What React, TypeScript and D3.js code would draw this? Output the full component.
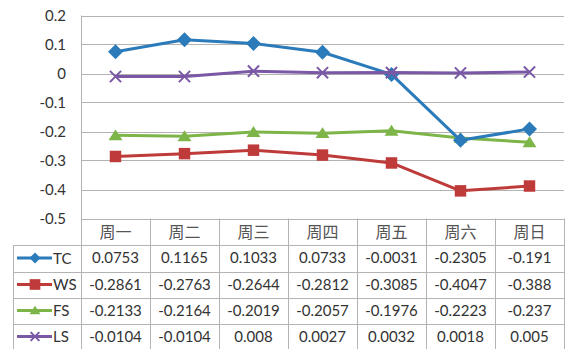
import React from "react";
import * as d3 from "d3";

const days = ["周一", "周二", "周三", "周四", "周五", "周六", "周日"];
const seriesNames = ["TC", "WS", "FS", "LS"];
const tcValues = [0.0753, 0.1165, 0.1033, 0.0733, -0.0031, -0.2305, -0.191];
const wsValues = [-0.2861, -0.2763, -0.2644, -0.2812, -0.3085, -0.4047, -0.388];
const fsValues = [-0.2133, -0.2164, -0.2019, -0.2057, -0.1976, -0.2223, -0.237];
const lsValues = [-0.0104, -0.0104, 0.008, 0.0027, 0.0032, 0.0018, 0.005];
const tableLabels = [
  ["0.0753", "0.1165", "0.1033", "0.0733", "-0.0031", "-0.2305", "-0.191"],
  ["-0.2861", "-0.2763", "-0.2644", "-0.2812", "-0.3085", "-0.4047", "-0.388"],
  ["-0.2133", "-0.2164", "-0.2019", "-0.2057", "-0.1976", "-0.2223", "-0.237"],
  ["-0.0104", "-0.0104", "0.008", "0.0027", "0.0032", "0.0018", "0.005"],
];
const yTicks = [0.2, 0.1, 0, -0.1, -0.2, -0.3, -0.4, -0.5];
const yTickLabels = ["0.2", "0.1", "0", "-0.1", "-0.2", "-0.3", "-0.4", "-0.5"];

const colors = ["#2B7BBA", "#BE3B3A", "#7DB548", "#7A58A6"];
const markers = ["diamond", "square", "triangle", "x"];

const W = 565, H = 349;
const left = 81, right = 564;
const top = 15.5, bottom = 218.5;
const rowTops = [245, 271.5, 297.5, 323.5];
const rowH = 26;
const font = "Lato, 'Open Sans', sans-serif";
const textColor = "#333";
const gridColor = "#b3b3b3";

function Marker({ type, cx, cy, color, s }: { type: string; cx: number; cy: number; color: string; s: number }) {
  if (type === "diamond") {
    return <path d={`M${cx},${cy - s}L${cx + s},${cy}L${cx},${cy + s}L${cx - s},${cy}Z`} fill={color} />;
  }
  if (type === "square") {
    const h = s * 0.82;
    return <rect x={cx - h} y={cy - h} width={2 * h} height={2 * h} fill={color} />;
  }
  if (type === "triangle") {
    return <path d={`M${cx},${cy - s * 0.85}L${cx + s},${cy + s * 0.7}L${cx - s},${cy + s * 0.7}Z`} fill={color} />;
  }
  const h = s * 0.8;
  return (
    <path d={`M${cx - h},${cy - h}L${cx + h},${cy + h}M${cx - h},${cy + h}L${cx + h},${cy - h}`} stroke={color} strokeWidth={2} fill="none" />
  );
}

export default function App() {
  const x = d3.scaleBand<string>().domain(days).range([left, right]).padding(0);
  const y = d3.scaleLinear().domain([-0.5, 0.2]).range([bottom, top]);
  const cx = (d: string) => (x(d) ?? 0) + x.bandwidth() / 2;
  const all = [tcValues, wsValues, fsValues, lsValues];
  const line = d3
    .line<number>()
    .x((_, i) => cx(days[i]))
    .y((v) => y(v));
  const order = [1, 2, 0, 3];
  const colEdges = days.map((d) => x(d) ?? 0).concat([right]);

  return (
    <svg width={W} height={H} style={{ position: "absolute", left: 0, top: 0, background: "#fff" }}>
      {yTicks.map((t) => (
        <line key={t} x1={left} x2={right} y1={Math.round(y(t)) + 0.5} y2={Math.round(y(t)) + 0.5} stroke={gridColor} strokeWidth={1} />
      ))}
      {yTicks.map((t, i) => (
        <text key={t} x={66} y={y(t) + 5} textAnchor="end" fontFamily={font} fontSize={15} fill={textColor}>
          {yTickLabels[i]}
        </text>
      ))}
      <line x1={left + 0.5} x2={left + 0.5} y1={top} y2={H} stroke={gridColor} />
      {colEdges.slice(1).map((e, i) => (
        <line key={i} x1={e + 0.5} x2={e + 0.5} y1={bottom} y2={H} stroke={gridColor} />
      ))}
      <line x1={13.5} x2={13.5} y1={rowTops[0]} y2={H} stroke={gridColor} />
      {rowTops.map((r, i) => (
        <line key={i} x1={13} x2={right} y1={Math.round(r) + 0.5} y2={Math.round(r) + 0.5} stroke={gridColor} />
      ))}
      {days.map((d) => (
        <text key={d} x={cx(d)} y={238} textAnchor="middle" fontFamily="'Noto Sans CJK SC', sans-serif" fontSize={16} fill="#555">
          {d}
        </text>
      ))}
      {tableLabels.map((row, ri) =>
        row.map((v, ci) => (
          <text key={`${ri}-${ci}`} x={cx(days[ci])} y={rowTops[ri] + rowH / 2 + 5} textAnchor="middle" fontFamily={font} fontSize={15} fill={textColor}>
            {v}
          </text>
        ))
      )}
      {seriesNames.map((n, i) => {
        const cy = rowTops[i] + rowH / 2;
        return (
          <g key={n}>
            <line x1={17} x2={52} y1={cy} y2={cy} stroke={colors[i]} strokeWidth={3} />
            <Marker type={markers[i]} cx={35} cy={cy} color={colors[i]} s={markers[i] === "square" ? 6.5 : 5.5} />
            <text x={53} y={cy + 5.5} fontFamily={font} fontSize={15} fill={textColor}>
              {n}
            </text>
          </g>
        );
      })}
      {order.map((i) => (
        <g key={seriesNames[i]}>
          <path d={line(all[i]) ?? ""} fill="none" stroke={colors[i]} strokeWidth={3} strokeLinejoin="round" />
          {all[i].map((v, j) => (
            <Marker key={j} type={markers[i]} cx={cx(days[j])} cy={y(v)} color={colors[i]} s={markers[i] === "diamond" ? 7.5 : 7} />
          ))}
        </g>
      ))}
    </svg>
  );
}
